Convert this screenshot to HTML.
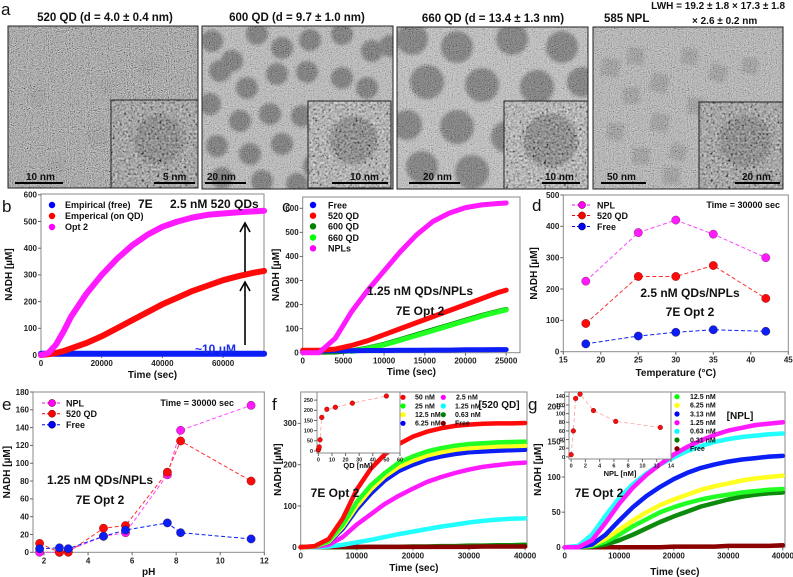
<!DOCTYPE html>
<html><head><meta charset="utf-8"><style>
html,body{margin:0;padding:0;background:#fff;}
svg{display:block;font-family:"Liberation Sans",Arial,sans-serif;}
.tk{font-weight:bold;fill:#222;}
.ax{font-weight:bold;fill:#111;}
.lg{font-size:9px;font-weight:bold;fill:#111;}
.lgs{font-size:7px;font-weight:bold;fill:#111;}
.pl{font-size:17px;fill:#111;}
.ann{font-size:12px;font-weight:bold;fill:#111;}
.tt{font-size:11.5px;font-weight:bold;fill:#111;}
.sb{font-size:10px;font-weight:bold;fill:#111;}
</style></head><body>
<svg id="fig" width="793" height="577" viewBox="0 0 793 577">
<defs>
<filter id="nz" x="0" y="0" width="100%" height="100%"><feTurbulence type="fractalNoise" baseFrequency="0.95" numOctaves="2" seed="3"/><feColorMatrix type="matrix" values="0.33 0.33 0.33 0 0 0.33 0.33 0.33 0 0 0.33 0.33 0.33 0 0 0 0 0 0 1"/><feComponentTransfer><feFuncR type="linear" slope="2.6" intercept="-0.8"/><feFuncG type="linear" slope="2.6" intercept="-0.8"/><feFuncB type="linear" slope="2.6" intercept="-0.8"/></feComponentTransfer></filter>
<filter id="nz2" x="0" y="0" width="100%" height="100%"><feTurbulence type="fractalNoise" baseFrequency="0.45" numOctaves="2" seed="7"/><feColorMatrix type="matrix" values="0.33 0.33 0.33 0 0 0.33 0.33 0.33 0 0 0.33 0.33 0.33 0 0 0 0 0 0 1"/><feComponentTransfer><feFuncR type="linear" slope="2.8" intercept="-0.9"/><feFuncG type="linear" slope="2.8" intercept="-0.9"/><feFuncB type="linear" slope="2.8" intercept="-0.9"/></feComponentTransfer></filter>
<filter id="bl"><feGaussianBlur stdDeviation="1.5"/></filter>
</defs>
<rect x="0" y="0" width="793" height="577" fill="#fff"/>
<text class="pl" x="1" y="15">a</text>
<text class="tt" x="105" y="21" text-anchor="middle">520 QD (d = 4.0 ± 0.4 nm)</text>
<text class="tt" x="297" y="21" text-anchor="middle">600 QD (d = 9.7 ± 1.0 nm)</text>
<text class="tt" x="493" y="22" text-anchor="middle">660 QD (d = 13.4 ± 1.3 nm)</text>
<text class="tt" x="604" y="22">585 NPL</text>
<text class="tt" x="785" y="9" text-anchor="end" style="font-size:10px">LWH = 19.2 ± 1.8 × 17.3 ± 1.8</text>
<text class="tt" x="692" y="24" style="font-size:10px">× 2.6 ± 0.2 nm</text>
<g id="tem"></g>
<g id="charts"></g>

<text class="pl" x="2" y="212">b</text>
<text class="ann" x="138" y="208">7E</text>
<text class="ann" x="170" y="208">2.5 nM 520 QDs</text>
<text class="ann" x="195" y="353" style="fill:#1a2ee8">~10 μM</text>
<g>
<circle cx="52" cy="205" r="3.2" fill="#0000ff"/><text class="lg" x="65" y="208">Empirical (free)</text>
<circle cx="52" cy="216" r="3.2" fill="#ff0000"/><text class="lg" x="65" y="219">Emperical (on QD)</text>
<circle cx="52" cy="227" r="3.2" fill="#ff00ff"/><text class="lg" x="65" y="230">Opt 2</text>
</g>
<g stroke="#000" stroke-width="1.6" fill="none">
<line x1="245" y1="272" x2="245" y2="225"/><polyline points="240,232 245,223 250,232"/>
<line x1="245" y1="345" x2="245" y2="284"/><polyline points="240,291 245,282 250,291"/>
</g>
<text class="pl" x="282" y="212">c</text>
<text class="ann" x="420" y="295" text-anchor="middle">1.25 nM QDs/NPLs</text>
<text class="ann" x="420" y="315" text-anchor="middle">7E Opt 2</text>
<g>
<circle cx="313" cy="205" r="3.2" fill="#0000ff"/><text class="lg" x="328" y="208.5">Free</text>
<circle cx="313" cy="215.7" r="3.2" fill="#ff0000"/><text class="lg" x="328" y="219">520 QD</text>
<circle cx="313" cy="226.3" r="3.2" fill="#008000"/><text class="lg" x="328" y="229.5">600 QD</text>
<circle cx="313" cy="237.5" r="3.2" fill="#00ff00"/><text class="lg" x="328" y="241">660 QD</text>
<circle cx="313" cy="248.3" r="3.2" fill="#ff00ff"/><text class="lg" x="328" y="251.5">NPLs</text>
</g>
<text class="pl" x="532" y="211">d</text>
<text class="lg" x="780" y="208" text-anchor="end">Time = 30000 sec</text>
<text class="ann" x="690" y="297" text-anchor="middle">2.5 nM QDs/NPLs</text>
<text class="ann" x="690" y="316" text-anchor="middle">7E Opt 2</text>
<g>
<line x1="572" y1="205" x2="592" y2="205" stroke="#ff00ff" stroke-dasharray="3,2"/><circle cx="582" cy="205" r="3.6" fill="#ff00ff" stroke="#600" stroke-width="0.5"/><text class="lg" x="597" y="208.5">NPL</text>
<line x1="572" y1="215.5" x2="592" y2="215.5" stroke="#ff0000" stroke-dasharray="3,2"/><circle cx="582" cy="215.5" r="3.6" fill="#ff0000" stroke="#600" stroke-width="0.5"/><text class="lg" x="597" y="219">520 QD</text>
<line x1="572" y1="226.5" x2="592" y2="226.5" stroke="#0000ff" stroke-dasharray="3,2"/><circle cx="582" cy="226.5" r="3.6" fill="#0000ff" stroke="#003" stroke-width="0.5"/><text class="lg" x="597" y="230">Free</text>
</g>
<text class="pl" x="2" y="410">e</text>
<text class="lg" x="234" y="406" text-anchor="end">Time = 30000 sec</text>
<text class="ann" x="100" y="484" text-anchor="middle">1.25 nM QDs/NPLs</text>
<text class="ann" x="100" y="504" text-anchor="middle">7E Opt 2</text>
<g>
<line x1="42" y1="403" x2="62" y2="403" stroke="#ff00ff" stroke-dasharray="3,2"/><circle cx="52" cy="403" r="3.6" fill="#ff00ff" stroke="#600" stroke-width="0.5"/><text class="lg" x="66" y="406.5">NPL</text>
<line x1="42" y1="413.7" x2="62" y2="413.7" stroke="#ff0000" stroke-dasharray="3,2"/><circle cx="52" cy="413.7" r="3.6" fill="#ff0000" stroke="#600" stroke-width="0.5"/><text class="lg" x="66" y="417">520 QD</text>
<line x1="42" y1="424.7" x2="62" y2="424.7" stroke="#0000ff" stroke-dasharray="3,2"/><circle cx="52" cy="424.7" r="3.6" fill="#0000ff" stroke="#003" stroke-width="0.5"/><text class="lg" x="66" y="428">Free</text>
</g>
<text class="pl" x="272" y="410">f</text>
<text class="ann" x="335" y="497" text-anchor="middle">7E Opt 2</text>
<text class="lg" x="499" y="408" text-anchor="middle" style="font-size:10px">[520 QD]</text>
<g>
<circle cx="403" cy="397.3" r="2.6" fill="#ff0000"/><text class="lgs" x="415" y="399.6">50 nM</text>
<circle cx="403" cy="406" r="2.6" fill="#00ff00"/><text class="lgs" x="415" y="408.3">25 nM</text>
<circle cx="403" cy="414.7" r="2.6" fill="#ffff00"/><text class="lgs" x="415" y="417">12.5 nM</text>
<circle cx="403" cy="423.3" r="2.6" fill="#0000ff"/><text class="lgs" x="415" y="425.6">6.25 nM</text>
<circle cx="443.3" cy="397.3" r="2.6" fill="#ff00ff"/><text class="lgs" x="456" y="399.6">2.5 nM</text>
<circle cx="443.3" cy="406" r="2.6" fill="#00ffff"/><text class="lgs" x="455" y="408.3">1.25 nM</text>
<circle cx="443.3" cy="414.7" r="2.6" fill="#008000"/><text class="lgs" x="455" y="417">0.63 nM</text>
<circle cx="443.3" cy="423.3" r="2.6" fill="#800000"/><text class="lgs" x="455" y="425.6">Free</text>
</g>
<text class="pl" x="528" y="410">g</text>
<text class="ann" x="599" y="497" text-anchor="middle">7E Opt 2</text>
<text class="lg" x="740" y="419" text-anchor="middle" style="font-size:10px">[NPL]</text>
<g>
<circle cx="677" cy="396.7" r="2.6" fill="#00ff00"/><text class="lgs" x="690" y="399">12.5 nM</text>
<circle cx="677" cy="405.3" r="2.6" fill="#ffff00"/><text class="lgs" x="690" y="407.6">6.25 nM</text>
<circle cx="677" cy="414" r="2.6" fill="#0000ff"/><text class="lgs" x="690" y="416.3">3.13 nM</text>
<circle cx="677" cy="422.7" r="2.6" fill="#ff00ff"/><text class="lgs" x="690" y="425">1.25 nM</text>
<circle cx="677" cy="431.3" r="2.6" fill="#00ffff"/><text class="lgs" x="690" y="433.6">0.63 nM</text>
<circle cx="677" cy="440" r="2.6" fill="#008000"/><text class="lgs" x="690" y="442.3">0.31 nM</text>
<circle cx="677" cy="448.7" r="2.6" fill="#800000"/><text class="lgs" x="690" y="451">Free</text>
</g>
</svg>
<script>
const bTime=[0,2500,5000,7500,10000,15000,20000,25000,30000,35000,40000,45000,50000,55000,60000,65000,70000,73500];
const bOpt2=[0,8,40,90,145,230,300,360,410,450,480,500,515,525,530,535,538,540];
const bOnQD=[0,3,8,15,25,45,70,100,130,160,190,215,240,260,280,295,308,315];
const bFree=[5,5,5,5,5,5,5,5,5,5,5,5,5,5,5,5,5,5];
const bXTicks=[0,20000,40000,60000];
const bYTicks=[0,100,200,300,400,500,600];

const cTime=[0,2000,4000,6000,8000,10000,12000,14000,16000,18000,20000,22000,24000,25000];
const cNPL=[0,0,60,170,260,340,420,490,545,580,603,614,620,622];
const cQD520=[10,10,15,30,50,75,100,125,150,175,200,225,250,260];
const cQD600=[2,2,3,8,20,35,55,75,95,115,135,155,172,180];
const cQD660=[null,null,null,5,18,33,52,72,92,112,132,152,170,178];
const cFree=[8,8,8,8,9,9,10,10,11,11,12,12,13,13];
const cXTicks=[0,5000,10000,15000,20000,25000];
const cYTicks=[0,100,200,300,400,500,600];

const dTemp=[18,25,30,35,42];
const dNPL=[225,380,420,375,300];
const dQD=[90,240,240,275,170];
const dFree=[25,50,62,70,65];
const dXTicks=[15,20,25,30,35,40,45];
const dYTicks=[0,100,200,300,400,500];

const ePH=[1.8,2.7,3.1,4.7,5.7,7.6,8.2,11.4];
const eNPL=[0,0,2,18,22,87,137,165];
const eQD=[10,0,0,27,30,90,125,80];
const eFree=[4,5,4,18,25,33,22,15];
const eXTicks=[2,4,6,8,10,12];
const eYTicks=[0,20,40,60,80,100,120,140,160,180];

const fgTime=[0,2500,5000,7500,10000,12500,15000,17500,20000,22500,25000,27500,30000,32500,35000,37500,40000];
const f50=[0,3,20,70,140,190,225,250,268,280,288,294,297,299,300,300,301];
const f25=[0,2,15,55,110,150,180,205,220,232,240,246,250,252,254,255,256];
const f12=[0,2,13,50,100,140,172,195,210,222,230,236,240,242,244,245,246];
const f6=[0,2,12,45,92,130,162,185,200,212,220,226,230,232,234,235,236];
const f2=[0,1,6,25,55,80,105,125,142,158,170,180,188,195,199,203,205];
const f1=[0,0,2,6,12,18,25,32,38,44,50,55,60,64,67,69,70];
const f06=[0,0,0,0,0,1,1,1,2,2,3,3,4,4,5,5,6];
const fFree=[1,1,1,1,1,1,1,1,1,1,1,1,1,2,2,2,2];
const fXTicks=[0,10000,20000,30000,40000];
const fYTicks=[0,100,200,300];
const fInQD=[0,0.31,0.63,1.25,2.5,6.25,12.5,25,50];
const fInVal=[5,10,20,55,165,205,215,235,270];
const fInXTicks=[0,10,20,30,40,50,60];
const fInYTicks=[0,50,100,150,200,250];

const g12=[0,0,2,8,18,30,40,50,57,63,68,72,75,78,80,82,83];
const g6=[0,0,3,12,25,38,50,60,68,75,82,87,91,95,98,100,102];
const g3=[0,0,4,18,38,57,73,86,97,106,113,118,122,125,127,129,130];
const g1=[0,0,10,35,62,85,103,118,132,143,152,160,166,170,174,176,178];
const g06=[0,2,18,45,70,90,105,118,128,137,144,150,154,157,159,161,162];
const g03=[0,0,1,4,10,18,27,36,44,51,58,63,68,72,75,77,78];
const gFree=[0,0,0,0,0,0,0,0,1,1,1,1,2,2,2,2,3];
const gXTicks=[0,10000,20000,30000,40000];
const gYTicks=[0,50,100,150,200];
const gInNPL=[0,0.31,0.63,1.25,3.13,6.25,12.5];
const gInVal=[5,60,135,145,107,82,68];
const gInXTicks=[0,2,4,6,8,10,12,14];
const gInYTicks=[0,20,40,60,80,100,120,140];

const NS='http://www.w3.org/2000/svg';
const charts=document.getElementById('charts');
function el(tag,attrs,parent){const e=document.createElementNS(NS,tag);for(const k in attrs)e.setAttribute(k,attrs[k]);(parent||charts).appendChild(e);return e;}
function sx(p,v){return p.L+(v-p.xmin)/(p.xmax-p.xmin)*(p.R-p.L);}
function sy(p,v){return p.B-(v-p.ymin)/(p.ymax-p.ymin)*(p.B-p.T);}
function axes(p,xt,yt,name){
  const g=el('g',{});
  
  
  const fr=el('rect',{x:p.L,y:p.T,width:p.R-p.L,height:p.B-p.T,fill:p.bg||'none',stroke:'#8a8a8a','stroke-width':1},g);
  
  
  const fs=p.fs||8;
  xt.forEach(v=>{const x=sx(p,v);
    el('line',{x1:x,x2:x,y1:p.B,y2:p.B+3,stroke:'#666'},g);
    const t=el('text',{x:x,y:p.B+3+fs,'text-anchor':'middle',class:'tk',style:'font-size:'+fs+'px'},g);t.textContent=v;
    
    });
  yt.forEach(v=>{const y=sy(p,v);
    el('line',{x1:p.L-3,x2:p.L,y1:y,y2:y,stroke:'#666'},g);
    const t=el('text',{x:p.L-4,y:y+fs*0.35,'text-anchor':'end',class:'tk',style:'font-size:'+fs+'px'},g);t.textContent=v;
    
    });
  if(p.xl){const t=el('text',{x:(p.L+p.R)/2,y:p.xly,'text-anchor':'middle',class:'ax',style:'font-size:10px'},g);t.textContent=p.xl;
    
    }
  if(p.yl){const cy=(p.T+p.B)/2;const t=el('text',{x:p.ylx,y:cy,'text-anchor':'middle',class:'ax',style:'font-size:10px',transform:'rotate(-90 '+p.ylx+' '+cy+')'},g);t.textContent=p.yl;
    
    }
}
function curve(p,xs,ys,color,w,name){
  let d='';let pen=false;
  xs.forEach((x,i)=>{const y=ys[i];if(y===null){pen=false;return;}d+=(pen?'L':'M')+sx(p,x).toFixed(1)+' '+sy(p,y).toFixed(1);pen=true;});
  const e=el('path',{d:d,fill:'none',stroke:color,'stroke-width':w,'stroke-linecap':'round','stroke-linejoin':'round'});
  
  
}
function scatter(p,xs,ys,color,r,name,lw,dash){
  const g=el('g',{});
  
  
  el('polyline',{points:xs.map((x,i)=>sx(p,x)+','+sy(p,ys[i])).join(' '),fill:'none',stroke:dash,'stroke-width':lw,'stroke-dasharray':'4,2.5'},g);
  xs.forEach((x,i)=>{const c=el('circle',{cx:sx(p,x),cy:sy(p,ys[i]),r:r,fill:color,stroke:'rgba(60,0,0,0.6)','stroke-width':0.5},g);
    
    });
}

const pb={L:41,R:264,T:194,B:355,xmin:0,xmax:73480,ymin:0,ymax:603,xl:'Time (sec)',xly:378,yl:'NADH [µM]',ylx:12};
axes(pb,bXTicks,bYTicks,'panel-b');
curve(pb,bTime,bFree,'#0a1ef5',6,'series-b-free');
curve(pb,bTime,bOnQD,'#ff0a0a',6,'series-b-on-qd');
curve(pb,bTime,bOpt2,'#ff1aff',6,'series-b-opt2');

const pc={L:302.7,R:520,T:197,B:352.7,xmin:0,xmax:26700,ymin:0,ymax:647,xl:'Time (sec)',xly:375,yl:'NADH [µM]',ylx:279};
axes(pc,cXTicks,cYTicks,'panel-c');
curve(pc,cTime,cQD600,'#0c8a0c',5,'series-c-600qd');
curve(pc,cTime,cQD660,'#22ff22',5,'series-c-660qd');
curve(pc,cTime,cFree,'#0a1ef5',5,'series-c-free');
curve(pc,cTime,cQD520,'#ff0a0a',5,'series-c-520qd');
curve(pc,cTime,cNPL,'#ff1aff',5,'series-c-npl');

const pd={L:563.3,R:788.3,T:195,B:351.7,xmin:15,xmax:45,ymin:0,ymax:500,xl:'Temperature (°C)',xly:376,yl:'NADH [µM]',ylx:537};
axes(pd,dXTicks,dYTicks,'panel-d');
scatter(pd,dTemp,dFree,'#0a1ef5',4.2,'series-d-free',1,'#0a1ef5');
scatter(pd,dTemp,dQD,'#ff0a0a',4.2,'series-d-520qd',1,'#ff3030');
scatter(pd,dTemp,dNPL,'#ff1aff',4.2,'series-d-npl',1,'#ff44ff');

const pe={L:33,R:264.3,T:392,B:552.3,xmin:1.5,xmax:12,ymin:0,ymax:180,xl:'pH',xly:575,yl:'NADH [µM]',ylx:10};
axes(pe,eXTicks,eYTicks,'panel-e');
scatter(pe,ePH,eNPL,'#ff1aff',4.2,'series-e-npl',1,'#ff44ff');
scatter(pe,ePH,eQD,'#ff0a0a',4.2,'series-e-520qd',1,'#ff3030');
scatter(pe,ePH,eFree,'#0a1ef5',4.2,'series-e-free',1,'#0a1ef5');

const pf={L:300.7,R:527,T:392,B:547.3,xmin:0,xmax:40340,ymin:0,ymax:376,xl:'Time (sec)',xly:571,yl:'NADH [µM]',ylx:281};
axes(pf,fXTicks,fYTicks,'panel-f');
curve(pf,fgTime,f06,'#0c8a0c',4.5,'series-f-0.63nm');
curve(pf,fgTime,fFree,'#8b0000',4.5,'series-f-free');
curve(pf,fgTime,f1,'#22ffff',4.5,'series-f-1.25nm');
curve(pf,fgTime,f2,'#ff1aff',4.5,'series-f-2.5nm');
curve(pf,fgTime,f6,'#0a1ef5',4.5,'series-f-6.25nm');
curve(pf,fgTime,f12,'#ffff22',4.5,'series-f-12.5nm');
curve(pf,fgTime,f25,'#22ff22',4.5,'series-f-25nm');
curve(pf,fgTime,f50,'#ff0a0a',4.5,'series-f-50nm');
const pfi={L:317,R:400,T:392,B:453,xmin:-1,xmax:60,ymin:-10,ymax:290,fs:5.5,bg:'#fff'};
axes(pfi,fInXTicks,fInYTicks,'inset-f');
const fiT=el('text',{x:358,y:468,'text-anchor':'middle',class:'ax',style:'font-size:7.5px'});fiT.textContent='QD [nM]';


scatter(pfi,fInQD,fInVal,'#ff0a0a',2.4,'series-f-inset',0.7,'#ff9090');

const pg={L:564.7,R:785,T:392,B:547.3,xmin:0,xmax:40400,ymin:0,ymax:221,xl:'Time (sec)',xly:575,yl:'NADH [µM]',ylx:541};
axes(pg,gXTicks,gYTicks,'panel-g');
curve(pg,fgTime,gFree,'#8b0000',4.5,'series-g-free');
curve(pg,fgTime,g03,'#0c8a0c',4.5,'series-g-0.31nm');
curve(pg,fgTime,g12,'#22ff22',4.5,'series-g-12.5nm');
curve(pg,fgTime,g6,'#ffff22',4.5,'series-g-6.25nm');
curve(pg,fgTime,g3,'#0a1ef5',4.5,'series-g-3.13nm');
curve(pg,fgTime,g06,'#22ffff',4.5,'series-g-0.63nm');
curve(pg,fgTime,g1,'#ff1aff',4.5,'series-g-1.25nm');
const pgi={L:569,R:671,T:392,B:459,xmin:-0.3,xmax:14,ymin:-5,ymax:150,fs:5.5,bg:'#fff'};
axes(pgi,gInXTicks,gInYTicks,'inset-g');
const giT=el('text',{x:620,y:476,'text-anchor':'middle',class:'ax',style:'font-size:7.5px'});giT.textContent='NPL [nM]';


scatter(pgi,gInNPL,gInVal,'#ff0a0a',2.4,'series-g-inset',0.7,'#ff9090');

const tem=document.getElementById('tem');
function tel(tag,attrs,parent){return el(tag,attrs,parent||tem);}
function temImg(x,y,w,h,base,parts,shape,pr,pc,name,nop){
  const g=tel('g',{});
  
  
  const cid='c'+Math.round(x);
  const cp=tel('clipPath',{id:cid},g);tel('rect',{x:x,y:y,width:w,height:h},cp);
  const inner=tel('g',{'clip-path':'url(#'+cid+')'},g);
  tel('rect',{x:x,y:y,width:w,height:h,fill:base},inner);
  parts.forEach(q=>{
    if(shape==='c')tel('circle',{cx:x+q[0],cy:y+q[1],r:q[2]||pr,fill:pc,filter:'url(#bl)'},inner);
    else tel('rect',{x:x+q[0],y:y+q[1],width:q[2]||pr,height:q[2]||pr,fill:pc,filter:'url(#bl)',transform:'rotate('+(q[3]||0)+' '+(x+q[0])+' '+(y+q[1])+')'},inner);
  });
  tel('rect',{x:x,y:y,width:w,height:h,filter:'url(#nz)',opacity:nop},inner);
  tel('rect',{x:x,y:y,width:w,height:h,fill:'none',stroke:'#222','stroke-width':1},g);
  return g;
}
function inset(x,y,w,h,base,crystal,cr,name){
  const g=tel('g',{});
  
  
  tel('rect',{x:x,y:y,width:w,height:h,fill:base},g);
  if(crystal)tel('circle',{cx:x+w*0.55,cy:y+h*0.45,r:cr,fill:'#555',filter:'url(#bl)'},g);
  tel('rect',{x:x,y:y,width:w,height:h,filter:'url(#nz2)',opacity:0.6},g);
  tel('rect',{x:x,y:y,width:w,height:h,fill:'none',stroke:'#222','stroke-width':1},g);
}
function bar(x1,x2,y,label,tx,name){
  const g=tel('g',{});
  
  
  tel('line',{x1:x1,x2:x2,y1:y,y2:y,stroke:'#000','stroke-width':2},g);
  const t=tel('text',{x:tx,y:y-3,class:'sb'},g);t.textContent=label;
}
temImg(8,26,190,162,'#8c8c8c',[[30,70,10],[90,110,12],[50,140,9],[140,40,10],[100,60,9]],'c',10,'#7a7a7a','tem-520qd',0.7);
inset(111,100,87,88,'#888',true,25,'tem-520qd-inset');
bar(15,63,183,'10 nm',26,'scalebar-520');bar(154,195,183,'5 nm',163,'scalebar-520-inset');
const p2=[[10,15],[30,35],[55,8],[80,22],[108,14],[140,8],[170,25],[188,20],[18,45],[45,62],[75,48],[105,46],[140,52],[165,62],[8,78],[38,95],[68,88],[100,90],[135,95],[15,120],[48,128],[80,118],[112,140],[20,152],[60,155],[95,158]];
temImg(202,26,191,163,'#bdbdbd',p2,'c',11,'#5a5a5a','tem-600qd',0.45);
inset(308,101,83,87,'#a8a8a8',true,24,'tem-600qd-inset');
bar(205,246,183,'20 nm',207,'scalebar-600');bar(332,388,183,'10 nm',350,'scalebar-600-inset');
const p3=[[15,12,16],[60,20,16],[115,12,16],[165,20,16],[30,55,17],[85,58,17],[140,60,17],[185,55,15],[10,98,15],[60,100,17],[110,110,16],[165,100,15],[25,140,16],[75,145,17],[125,150,16],[175,148,15]];
temImg(397,27,191,162,'#c4c4c4',p3,'c',16,'#5e5e5e','tem-660qd',0.45);
inset(504,101,84,88,'#b0b0b0',true,27,'tem-660qd-inset');
bar(409,460,183,'20 nm',423,'scalebar-660');bar(542,580,183,'10 nm',545,'scalebar-660-inset');
const p4=[[10,30,18,10],[35,20,17,5],[60,45,18,15],[30,60,17,0],[90,20,16,10],[120,35,17,20],[95,70,17,5],[60,85,18,12],[15,95,17,8],[40,120,17,3],[80,115,16,18],[125,90,17,10],[150,30,16,5],[110,130,17,12],[70,140,17,0],[150,140,16,8]];
temImg(593,27,190,162,'#b5b5b5',p4,'s',17,'#8f8f8f','tem-npl',0.5);
inset(699,102,84,87,'#8a8a8a',true,26,'tem-npl-inset');
bar(601,646,183,'50 nm',607,'scalebar-npl');bar(735,780,183,'20 nm',742,'scalebar-npl-inset');
</script>
</body></html>
